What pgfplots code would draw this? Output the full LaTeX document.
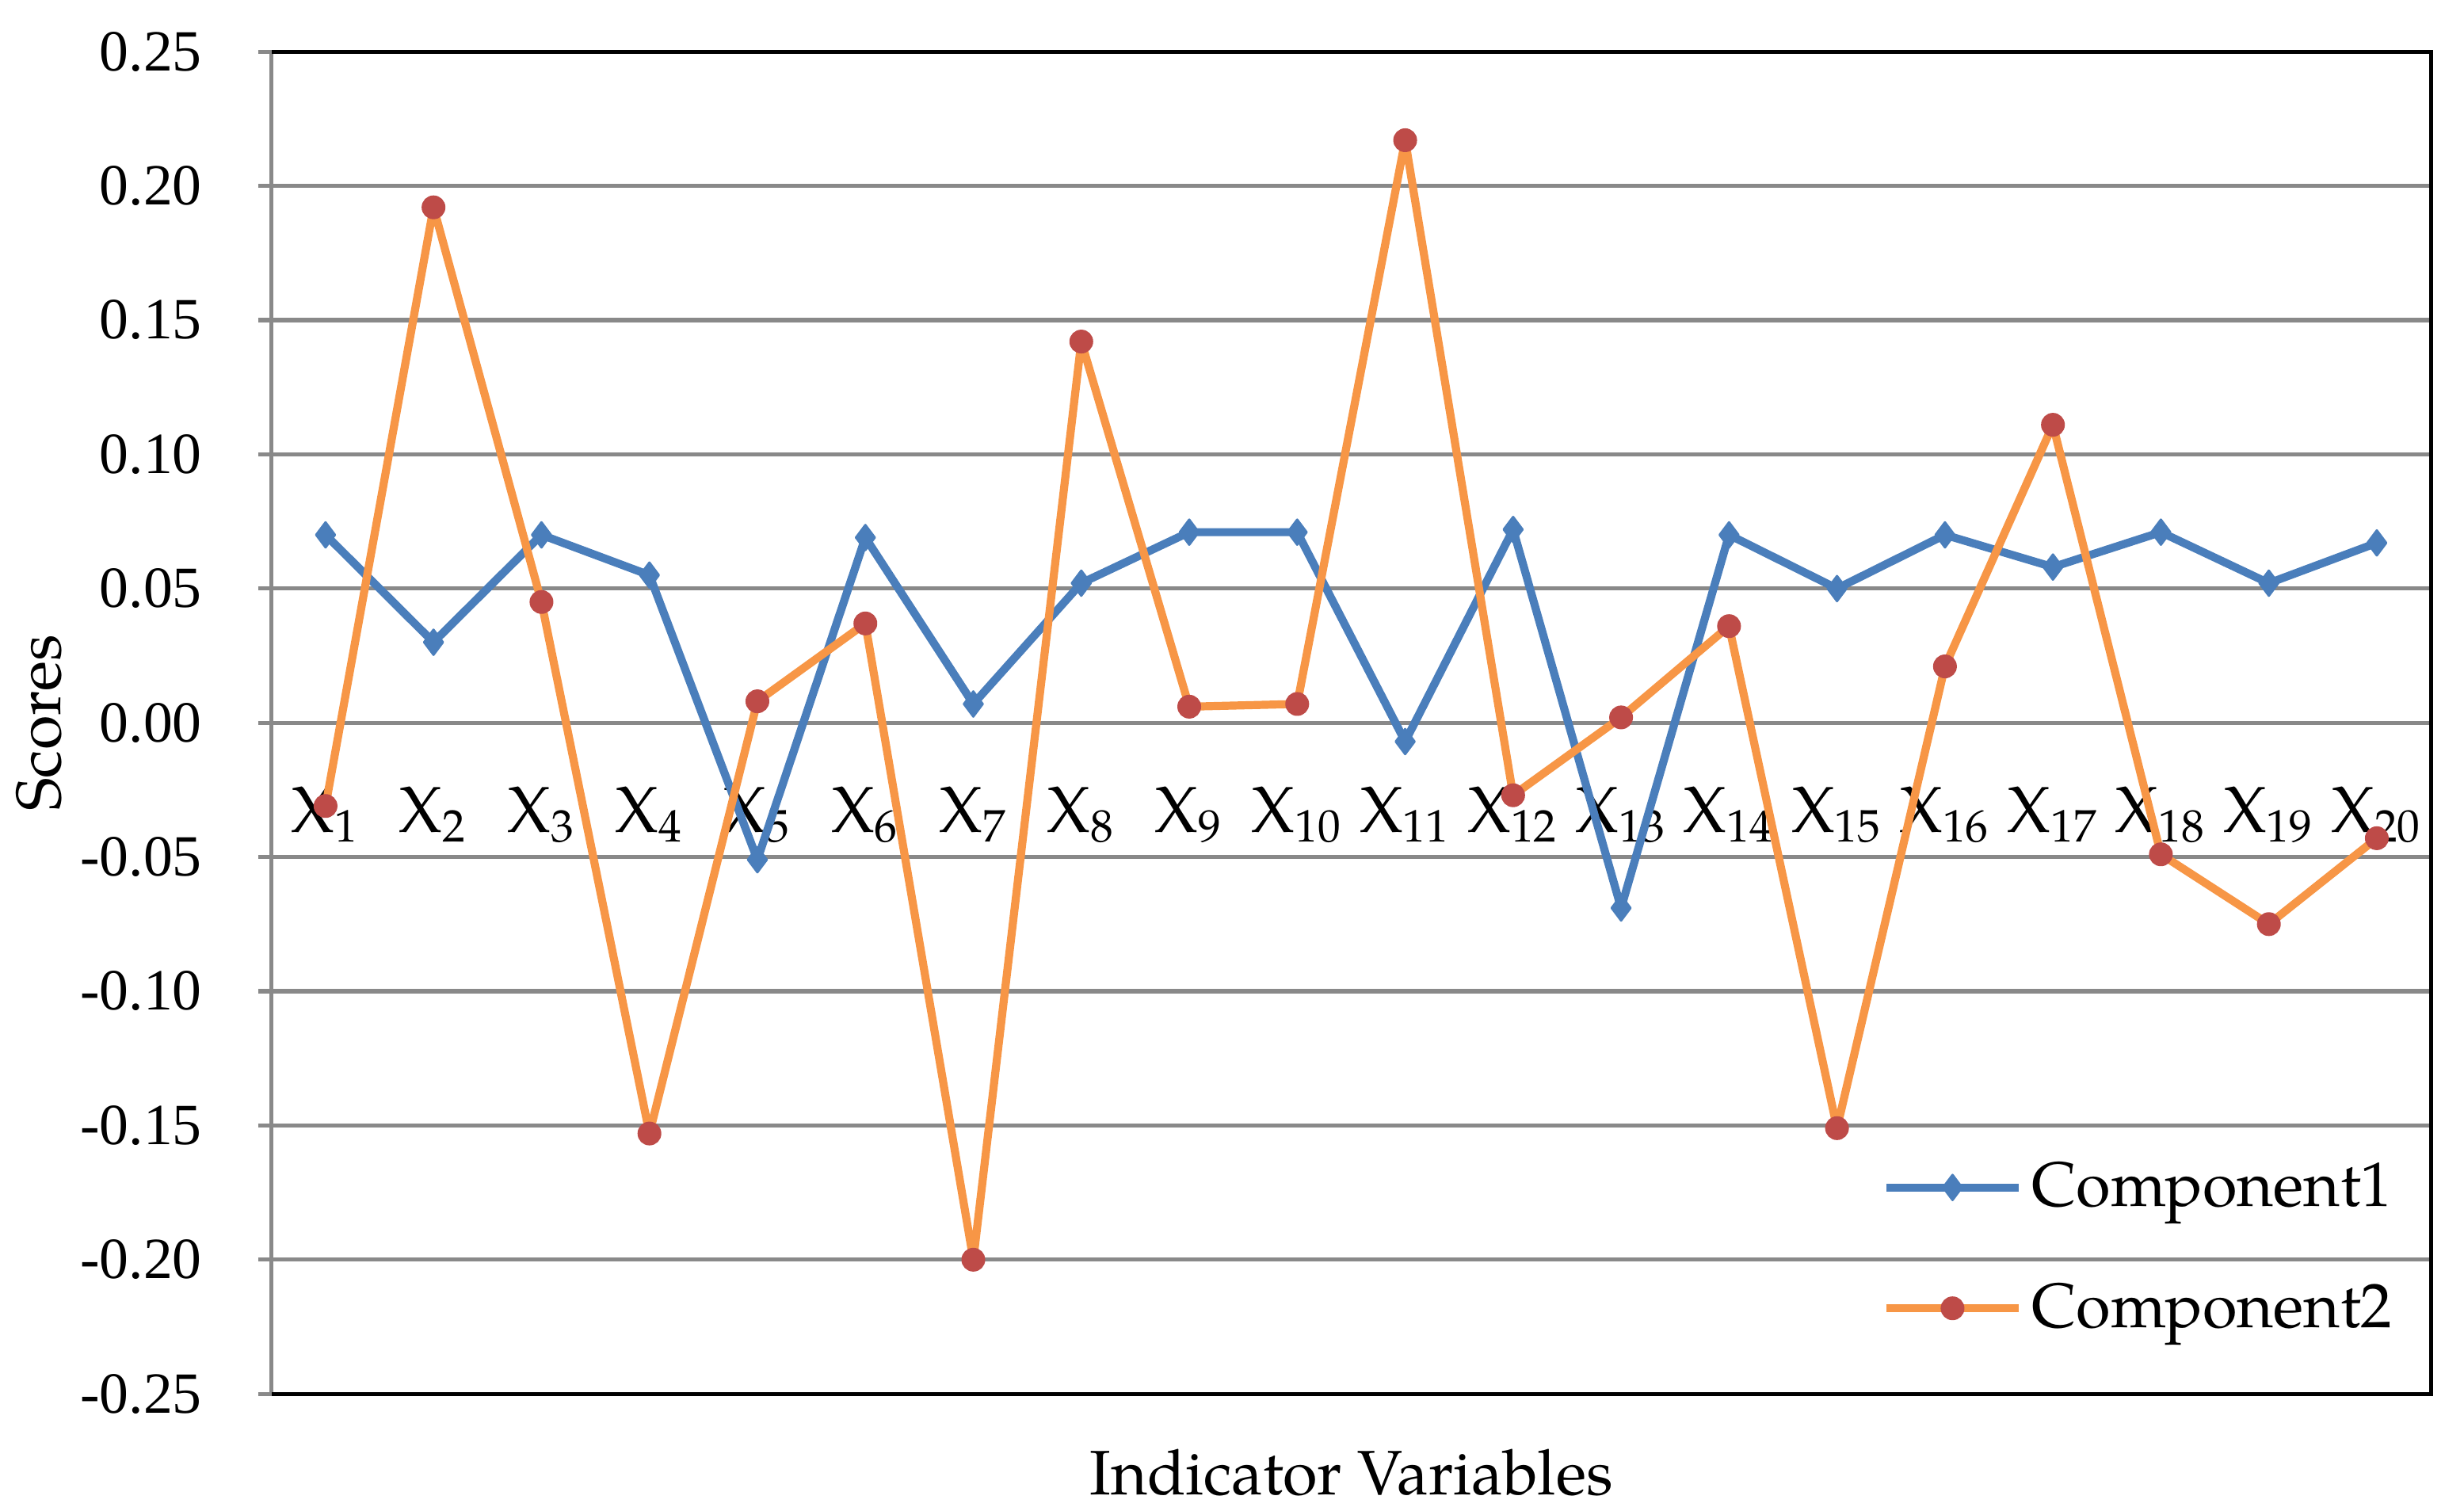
\documentclass[border=0pt]{standalone}
\usepackage{pgfplots}
\pgfplotsset{compat=1.18}
\usepackage{fontspec}
\setmainfont{TeX Gyre Pagella}
\newfontfamily\timesfont{Liberation Serif}
\definecolor{c1}{HTML}{4A7EBB}
\definecolor{c2}{HTML}{F79646}
\definecolor{m2}{HTML}{BE4B48}
\definecolor{gridgray}{HTML}{898989}
\begin{document}
\begin{tikzpicture}
\begin{axis}[
  scale only axis, width=481pt, height=299pt,
  xmin=0.5, xmax=20.5, ymin=-0.25, ymax=0.25,
  clip=false,
  axis line style={draw=none},
  xtick={1,...,20},
  xticklabels={X\textsubscript{1},X\textsubscript{2},X\textsubscript{3},X\textsubscript{4},X\textsubscript{5},X\textsubscript{6},X\textsubscript{7},X\textsubscript{8},X\textsubscript{9},X\textsubscript{10},X\textsubscript{11},X\textsubscript{12},X\textsubscript{13},X\textsubscript{14},X\textsubscript{15},X\textsubscript{16},X\textsubscript{17},X\textsubscript{18},X\textsubscript{19},X\textsubscript{20}},
  xtick style={draw=none},
  xticklabel style={font=\fontsize{14.5}{16}\selectfont, anchor=north, inner sep=0pt, yshift=138.4pt},
  ytick distance=0.05,
  ytick pos=left,
  tick align=outside,
  major tick length=3pt,
  ytick style={draw=gridgray, line width=0.9pt},
  yticklabel style={font=\fontsize{13}{15}\timesfont, xshift=-9pt},
  /pgf/number format/assume math mode=true,
  yticklabel={\pgfmathprintnumber[fixed,fixed zerofill,precision=2]{\tick}},
  ymajorgrids,
  grid style={draw=gridgray, line width=0.9pt},
  every axis y label/.style={at={(rel axis cs:-0.1076,0.5)}, rotate=90, anchor=center, font=\fontsize{14}{16}\selectfont},
  every axis x label/.style={at={(rel axis cs:0.5,-0.0585)}, anchor=center, font=\fontsize{14}{16}\selectfont},
  ylabel={Scores},
  xlabel={Indicator Variables},
  legend style={draw=none, fill=none, at={(rel axis cs:0.993,0.187)}, anchor=north east,
    font=\fontsize{14}{16}\selectfont, row sep=11.5pt, cells={anchor=west}},
  legend image code/.code={\draw[mark repeat=2,mark phase=2,#1] plot coordinates {(0cm,0cm) (0.52cm,0cm) (1.04cm,0cm)};},
]
\draw[gridgray, line width=0.9pt] (rel axis cs:0,0) -- (rel axis cs:0,1);
\draw[black, line width=0.9pt] (rel axis cs:0,1) -- (rel axis cs:1,1) -- (rel axis cs:1,0) -- (rel axis cs:0,0);
\addplot[c1, line width=1.8pt, line join=round, mark=diamond*, mark size=2.8pt, mark options={fill=c1, draw=c1, line width=0.5pt}] coordinates {
(1,0.070) (2,0.030) (3,0.070) (4,0.055) (5,-0.051) (6,0.069) (7,0.007) (8,0.052) (9,0.071) (10,0.071)
(11,-0.007) (12,0.072) (13,-0.069) (14,0.070) (15,0.050) (16,0.070) (17,0.058) (18,0.071) (19,0.052) (20,0.067)};
\addlegendentry{Component1}
\addplot[c2, line width=1.8pt, line join=round, mark=*, mark size=2.4pt, mark options={fill=m2, draw=m2, line width=0.5pt}] coordinates {
(1,-0.031) (2,0.192) (3,0.045) (4,-0.153) (5,0.008) (6,0.037) (7,-0.200) (8,0.142) (9,0.006) (10,0.007)
(11,0.217) (12,-0.027) (13,0.002) (14,0.036) (15,-0.151) (16,0.021) (17,0.111) (18,-0.049) (19,-0.075) (20,-0.043)};
\addlegendentry{Component2}
\end{axis}
\path (-60.5pt,-25.2pt) rectangle (488.4pt,310.5pt);
\end{tikzpicture}
\end{document}
